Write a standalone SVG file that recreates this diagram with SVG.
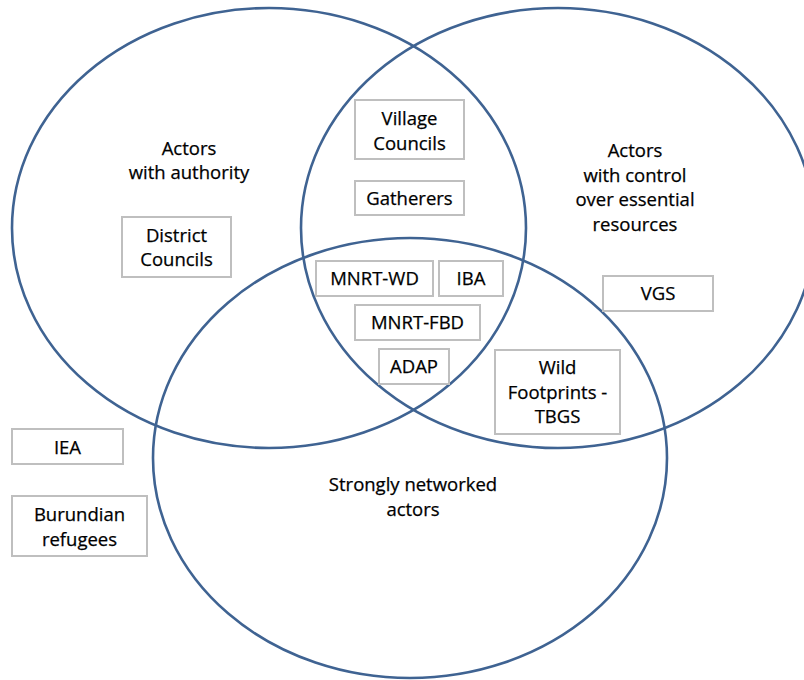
<svg xmlns="http://www.w3.org/2000/svg" width="804" height="680" viewBox="0 0 804 680">
<style>
.c{fill:none;stroke:#3F6392;stroke-width:2.6}
.b{fill:#fff;stroke:#BFBFBF;stroke-width:2}
text{font-family:"Open Sans","Liberation Sans",sans-serif;font-size:18.5px;fill:#000;text-anchor:middle;stroke:#000;stroke-width:0.25}
</style>
<rect width="804" height="680" fill="#fff"/>
<g id="sets">
<ellipse class="c" cx="269" cy="228" rx="257" ry="220"/>
<ellipse class="c" cx="558" cy="228" rx="257" ry="220"/>
<ellipse class="c" cx="410" cy="458" rx="257" ry="220"/>
</g>
<g id="labels">
<text x="189" y="155">Actors</text>
<text x="189" y="179">with authority</text>
<text x="635" y="157">Actors</text>
<text x="635" y="182">with control</text>
<text x="635" y="206">over essential</text>
<text x="635" y="231">resources</text>
<text x="413" y="491">Strongly networked</text>
<text x="413" y="516">actors</text>
</g>
<g id="village-councils"><rect class="b" x="355" y="100" width="109" height="59"/><text x="409.5" y="125">Village</text><text x="409.5" y="150">Councils</text></g>
<g id="gatherers"><rect class="b" x="355" y="181" width="109" height="34"/><text x="409.5" y="205">Gatherers</text></g>
<g id="district-councils"><rect class="b" x="122" y="217" width="109" height="60"/><text x="176.5" y="242">District</text><text x="176.5" y="266">Councils</text></g>
<g id="mnrt-wd"><rect class="b" x="316" y="261" width="117" height="35"/><text x="374.5" y="285">MNRT-WD</text></g>
<g id="iba"><rect class="b" x="439" y="261" width="64" height="35"/><text x="471" y="285">IBA</text></g>
<g id="mnrt-fbd"><rect class="b" x="355" y="305" width="125" height="35"/><text x="417.5" y="329">MNRT-FBD</text></g>
<g id="adap"><rect class="b" x="379" y="349" width="70" height="35"/><text x="414" y="373">ADAP</text></g>
<g id="wild-footprints"><rect class="b" x="495" y="350" width="125" height="84"/><text x="557.5" y="374">Wild</text><text x="557.5" y="399">Footprints -</text><text x="557.5" y="423">TBGS</text></g>
<g id="vgs"><rect class="b" x="603" y="276" width="110" height="35"/><text x="658" y="300">VGS</text></g>
<g id="iea"><rect class="b" x="12" y="429" width="111" height="35"/><text x="67.5" y="454">IEA</text></g>
<g id="burundian-refugees"><rect class="b" x="12" y="496" width="135" height="60"/><text x="79.5" y="521">Burundian</text><text x="79.5" y="546">refugees</text></g>
</svg>
